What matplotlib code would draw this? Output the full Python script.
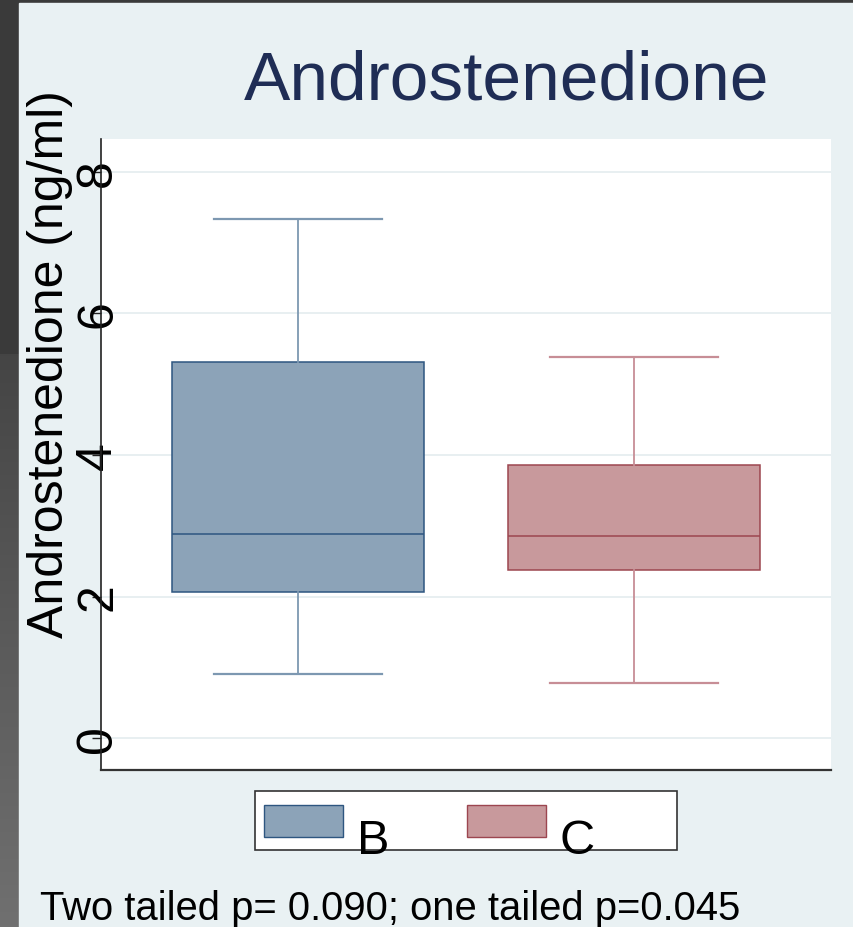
"""Androstenedione box plot (groups B and C) on a slide-style panel."""

import numpy as np
import matplotlib

matplotlib.use("Agg")
import matplotlib.pyplot as plt
from matplotlib.patches import Rectangle

plt.rcParams["font.family"] = ["Liberation Sans", "DejaVu Sans"]

# summary stats (ng/ml)
groups = ["B", "C"]
q1 = [2.07, 2.37]
medians = [2.88, 2.86]
q3 = [5.32, 3.86]
whisk_lo = [0.90, 0.78]
whisk_hi = [7.33, 5.39]
yticks = [0, 2, 4, 6, 8]

fill_colors = ["#8ca3b8", "#c8999c"]
edge_colors = ["#2e5680", "#9c4650"]
whisk_colors = ["#7d98b1", "#c78e96"]

PANEL = "#e9f1f3"
W, H = 854, 928

fig = plt.figure(figsize=(W / 100, H / 100), dpi=100)

# slide background: dark strip on the left/top with a soft gradient
bg = fig.add_axes([0, 0, 1, 1], zorder=-10)
rows = np.arange(H)
shade = np.where(rows < 355, 0.23, 0.27 + 0.17 * (rows - 355) / (H - 355))
bg.imshow(np.repeat(shade[:, None, None], 3, axis=2),
          extent=[0, W, H, 0], aspect="auto")
bg.add_patch(Rectangle((19, 4), W - 19, H - 4, color=PANEL))
bg.set_xlim(0, W)
bg.set_ylim(H, 0)
bg.axis("off")

ax = fig.add_axes([101 / W, 157 / H, 730 / W, 631 / H])
ax.set_facecolor("white")

stats = []
for i, g in enumerate(groups):
    stats.append(dict(label=g, q1=q1[i], med=medians[i], q3=q3[i],
                      whislo=whisk_lo[i], whishi=whisk_hi[i], fliers=[]))

for i, st in enumerate(stats):
    ax.bxp([st], positions=[i + 1], widths=0.75, capwidths=0.5,
           showfliers=False, patch_artist=True,
           boxprops=dict(facecolor=fill_colors[i], edgecolor=edge_colors[i], linewidth=1.1),
           medianprops=dict(color=edge_colors[i], linewidth=1.1),
           whiskerprops=dict(color=whisk_colors[i], linewidth=1.3),
           capprops=dict(color=whisk_colors[i], linewidth=1.6),
           zorder=3)

ax.set_xlim(0.414, 2.586)
ax.set_ylim(-0.452, 8.466)
ax.set_xticks([])
ax.set_yticks(yticks)
ax.set_yticklabels([str(t) for t in yticks])
ax.yaxis.grid(True, color="#e6eef0", linewidth=1.3, zorder=0)
ax.set_axisbelow(True)
for side in ("top", "right"):
    ax.spines[side].set_visible(False)
ax.spines["left"].set_color("#222222")
ax.spines["bottom"].set_color("#333333")
ax.spines["left"].set_linewidth(1.2)
ax.spines["bottom"].set_linewidth(1.6)
ax.tick_params(axis="y", length=6.5, width=1, color="#222222",
               labelsize=36, pad=-21)
plt.setp(ax.get_yticklabels(), rotation=90, va="center")

fig.text(50 / W, 1 - 364 / H, "Androstenedione (ng/ml)", rotation=90,
         ha="center", va="center", fontsize=36, color="black")

fig.text(507 / W, 1 - 100 / H, "Androstenedione", ha="center",
         va="baseline", fontsize=50, color="#1f2d55")

# legend drawn by hand: patches sit above, labels hang below
fig.add_artist(Rectangle((255 / W, 1 - 851 / H), 422 / W, 59 / H,
                         transform=fig.transFigure, facecolor="white",
                         edgecolor="#333333", linewidth=1.2))
leg_x = [264, 467]
lab_x = [357, 560]
for i, g in enumerate(groups):
    fig.add_artist(Rectangle((leg_x[i] / W, 1 - 838 / H), 79 / W, 32 / H,
                             transform=fig.transFigure,
                             facecolor=fill_colors[i], edgecolor=edge_colors[i],
                             linewidth=1.0))
    fig.text(lab_x[i] / W, 1 - 854 / H, g, ha="left", va="baseline",
             fontsize=35, color="black")

fig.text(40 / W, 1 - 920 / H, "Two tailed p= 0.090; one tailed p=0.045",
         ha="left", va="baseline", fontsize=28.8, color="black")

fig.savefig("out.png", dpi=100)
